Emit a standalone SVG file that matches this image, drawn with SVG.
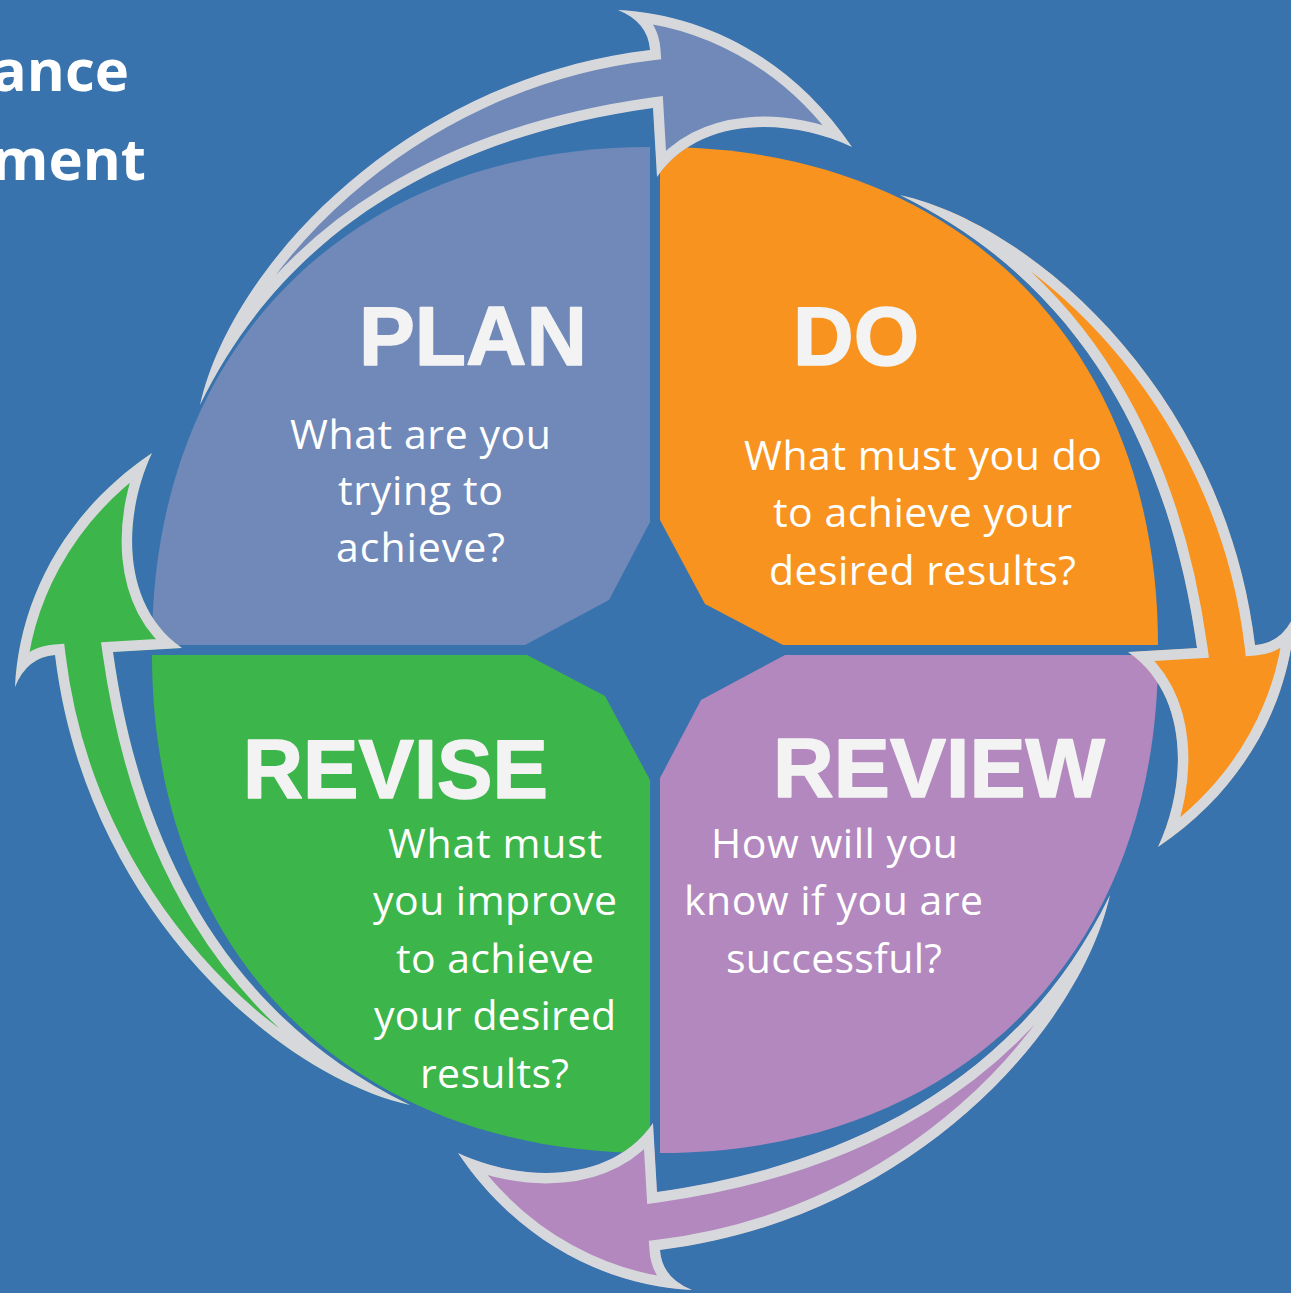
<svg xmlns="http://www.w3.org/2000/svg" width="1291" height="1293" viewBox="0 0 1291 1293">
  <defs>
    <style>
      .title { font-family: "Open Sans", "Liberation Sans", sans-serif; font-weight: 700; font-size: 58px; fill: #ffffff; text-anchor: end; }
      .head { font-family: "Liberation Sans", Arial, sans-serif; font-weight: 700; font-size: 83px; fill: #f3f3f3; stroke: #f3f3f3; stroke-width: 1.5; stroke-linejoin: round; }
      .body { font-family: "Open Sans", "Liberation Sans", sans-serif; font-size: 41px; fill: #ffffff; text-anchor: middle; }
      .ring { stroke: #d6d8dc; stroke-width: 21; stroke-linejoin: miter; }
    </style>
    <!-- one quadrant (top-left); the others are rotations about the centre 655,650 -->
    <path id="quad" d="M650,147 L650,522 L609,600 L525,645 L152,645 C152,346 351,147 650,147 Z"/>
    <!-- curved arrow sweeping over the top; rotated copies make the cycle -->
    <path id="arrowGeom" d="M200,405 C230,270 400,80 650,50 Q648,22 618,10 C700,14 790,55 852,147 C790,118 700,115 657,177 L653,108 C460,135 290,220 200,405 Z"/>
    <clipPath id="arrowClip">
      <use href="#arrowGeom"/>
    </clipPath>
  </defs>

  <rect width="1291" height="1293" fill="#3873ae"/>

  <g id="title">
    <text class="title" x="129" y="91">ance</text>
    <text class="title" x="146" y="180">ment</text>
  </g>

  <g id="plan">
    <use href="#quad" fill="#7089b8"/>
    <text class="head" x="359" y="365" textLength="228" lengthAdjust="spacingAndGlyphs">PLAN</text>
    <text class="body" x="420.5" y="449" textLength="261">What are you</text>
    <text class="body" x="420.5" y="505" textLength="165">trying to</text>
    <text class="body" x="420.5" y="562" textLength="169">achieve?</text>
  </g>

  <g id="do">
    <use href="#quad" fill="#f7931e" transform="rotate(90 655 650)"/>
    <text class="head" x="793" y="365" textLength="126" lengthAdjust="spacingAndGlyphs">DO</text>
    <text class="body" x="923" y="470" textLength="358">What must you do</text>
    <text class="body" x="922.5" y="527" textLength="299">to achieve your</text>
    <text class="body" x="922.5" y="585" textLength="307">desired results?</text>
  </g>

  <g id="review">
    <use href="#quad" fill="#b288be" transform="rotate(180 655 650)"/>
    <text class="head" x="773" y="797" textLength="332" lengthAdjust="spacingAndGlyphs">REVIEW</text>
    <text class="body" x="834.5" y="858" textLength="247">How will you</text>
    <text class="body" x="833.5" y="915" textLength="299">know if you are</text>
    <text class="body" x="834" y="973" textLength="216">successful?</text>
  </g>

  <g id="revise">
    <use href="#quad" fill="#3cb54a" transform="rotate(270 655 650)"/>
    <text class="head" x="243" y="798" textLength="305" lengthAdjust="spacingAndGlyphs">REVISE</text>
    <text class="body" x="495" y="858" textLength="214">What must</text>
    <text class="body" x="495" y="915" textLength="244">you improve</text>
    <text class="body" x="495" y="973" textLength="198">to achieve</text>
    <text class="body" x="495" y="1030" textLength="242">your desired</text>
    <text class="body" x="494.5" y="1088" textLength="149">results?</text>
  </g>

  <g id="connectors">
    <g id="arrow-plan-do">
      <g clip-path="url(#arrowClip)">
        <use href="#arrowGeom" class="ring" fill="#7089b8"/>
      </g>
    </g>
    <g id="arrow-do-review" transform="rotate(90 655 650)">
      <g clip-path="url(#arrowClip)">
        <use href="#arrowGeom" class="ring" fill="#f7931e"/>
      </g>
    </g>
    <g id="arrow-review-revise" transform="rotate(180 655 650)">
      <g clip-path="url(#arrowClip)">
        <use href="#arrowGeom" class="ring" fill="#b288be"/>
      </g>
    </g>
    <g id="arrow-revise-plan" transform="rotate(270 655 650)">
      <g clip-path="url(#arrowClip)">
        <use href="#arrowGeom" class="ring" fill="#3cb54a"/>
      </g>
    </g>
  </g>
</svg>
